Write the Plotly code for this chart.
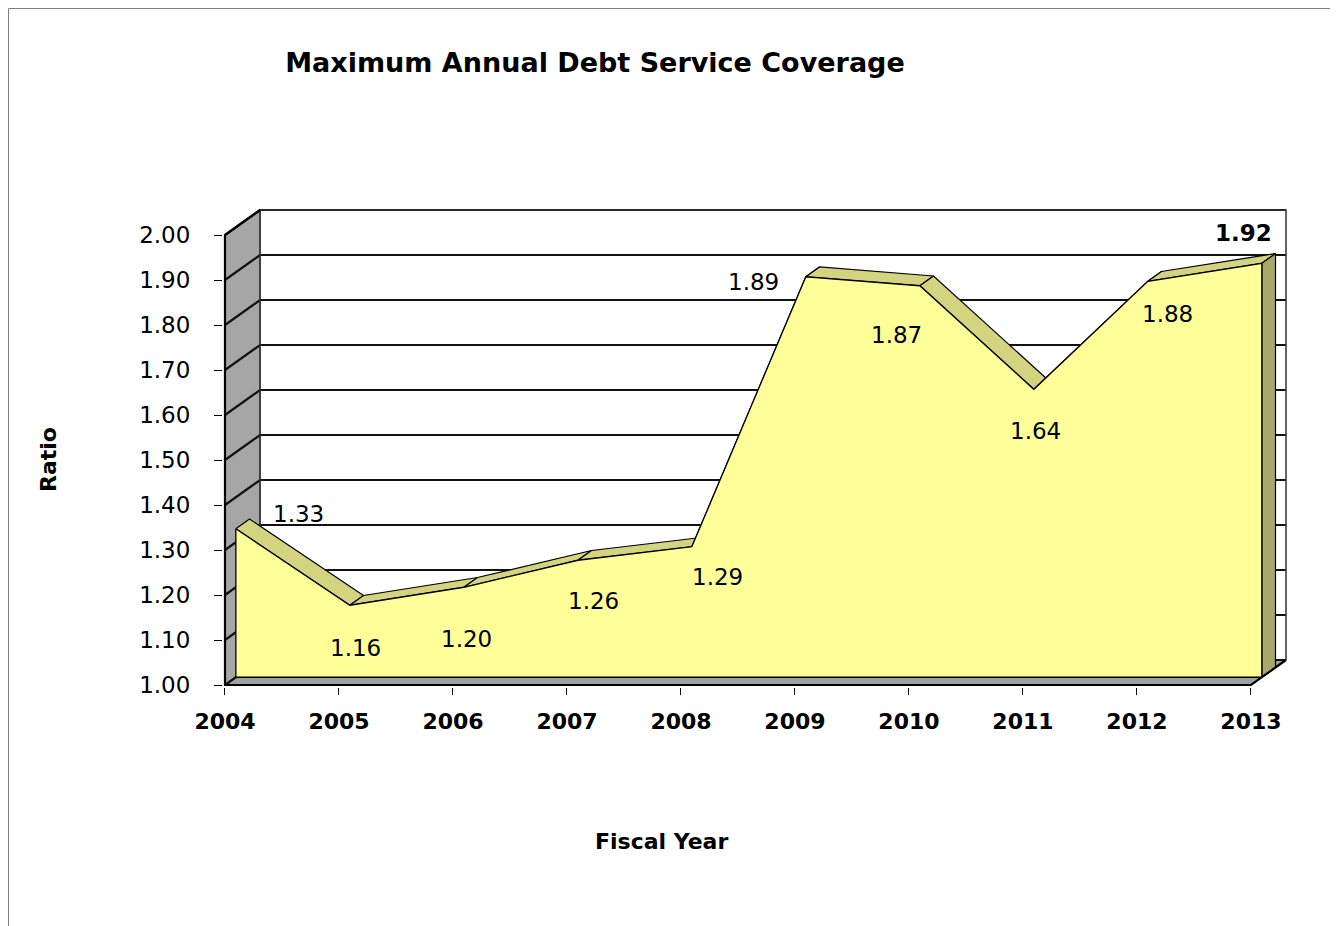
import plotly.graph_objects as go

# ---------------- data ----------------
years = [2004, 2005, 2006, 2007, 2008, 2009, 2010, 2011, 2012, 2013]
ratios = [1.33, 1.16, 1.20, 1.26, 1.29, 1.89, 1.87, 1.64, 1.88, 1.92]
y_tick_values = [1.00, 1.10, 1.20, 1.30, 1.40, 1.50, 1.60, 1.70, 1.80, 1.90, 2.00]
y_tick_labels = ["1.00", "1.10", "1.20", "1.30", "1.40", "1.50", "1.60", "1.70", "1.80", "1.90", "2.00"]
x_tick_labels = ["2004", "2005", "2006", "2007", "2008", "2009", "2010", "2011", "2012", "2013"]
value_labels = ["1.33", "1.16", "1.20", "1.26", "1.29", "1.89", "1.87", "1.64", "1.88", "1.92"]
chart_title = "Maximum Annual Debt Service Coverage"
x_title = "Fiscal Year"
y_title = "Ratio"

# ---------------- style ----------------
FONT = "DejaVu Sans"
DEPTH_X = 0.3073      # 3-D depth offset in x (years)
DEPTH_Y = 0.0556      # 3-D depth offset in y (ratio units)
SERIES_FRONT = 0.31   # fraction of depth where series front face lies
SERIES_BACK = 0.70    # fraction of depth where series back lies
FRONT_COLOR = "#FFFF99"
TOP_COLOR = "#D3D380"
SIDE_COLOR = "#A8A86A"
WALL_COLOR = "#A6A6A6"
FLOOR_COLOR = "#A0A0A0"
# label offsets in pixels (right, up) relative to each data point
label_shift = [(74, 23), (17, -35), (14, -44), (27, -33), (37, -22),
               (-41, 3), (-12, -41), (13, -34), (31, -25), (-7, 38)]

# page geometry (the html body adds an 8px offset)
OFF = 8
W, H = 1338 - OFF, 926 - OFF
PL, PT, PW, PH = 223, 208, 1065, 479   # plot area in page pixels


def px(xp):
    return (xp - PL) / PW


def py(yp):
    return (PT + PH - yp) / PH


x0, xN = years[0], years[-1]
ymin, ymax = y_tick_values[0], y_tick_values[-1]
EX, EY = 0.0175, 0.0044

fig = go.Figure()


def poly(xs, ys, fill, lw=1.0, lc="black"):
    fig.add_trace(go.Scatter(x=xs + [xs[0]], y=ys + [ys[0]], mode="lines",
                             fill="toself", fillcolor=fill,
                             line=dict(color=lc, width=lw),
                             hoverinfo="skip", showlegend=False))


# side wall
poly([x0, x0, x0 + DEPTH_X, x0 + DEPTH_X], [ymin, ymax, ymax + DEPTH_Y, ymin + DEPTH_Y], WALL_COLOR)
# floor
poly([x0, xN, xN + DEPTH_X, x0 + DEPTH_X], [ymin, ymin, ymin + DEPTH_Y, ymin + DEPTH_Y], FLOOR_COLOR)

# gridlines on side and back wall
gx, gy = [], []
for v in y_tick_values:
    gx += [x0, x0 + DEPTH_X, xN + DEPTH_X, None]
    gy += [v, v + DEPTH_Y, v + DEPTH_Y, None]
fig.add_trace(go.Scatter(x=gx, y=gy, mode="lines", line=dict(color="#111111", width=2.2),
                         hoverinfo="skip", showlegend=False))
# back wall frame
fig.add_trace(go.Scatter(x=[x0 + DEPTH_X, x0 + DEPTH_X, xN + DEPTH_X, xN + DEPTH_X],
                         y=[ymin + DEPTH_Y, ymax + DEPTH_Y, ymax + DEPTH_Y, ymin + DEPTH_Y],
                         mode="lines", line=dict(color="#333333", width=1.5),
                         hoverinfo="skip", showlegend=False))

fdx, fdy = SERIES_FRONT * DEPTH_X, SERIES_FRONT * DEPTH_Y
bdx, bdy = SERIES_BACK * DEPTH_X, SERIES_BACK * DEPTH_Y

# top ribbons of the 3-D area
for i in range(len(years) - 1):
    xa, xb = years[i], years[i + 1]
    ya, yb = ratios[i], ratios[i + 1]
    poly([xa + fdx, xb + fdx, xb + bdx, xa + bdx],
         [ya + fdy, yb + fdy, yb + bdy, ya + bdy], TOP_COLOR, lw=1.2)

# right end face
poly([xN + fdx, xN + bdx, xN + bdx, xN + fdx],
     [ratios[-1] + fdy, ratios[-1] + bdy, ymin + bdy, ymin + fdy], SIDE_COLOR, lw=1.2)

# front face
fx = [x0 + fdx] + [x + fdx for x in years] + [xN + fdx]
fy = [ymin + fdy] + [r + fdy for r in ratios] + [ymin + fdy]
poly(fx, fy, FRONT_COLOR, lw=1.3)

# front axis lines
fig.add_trace(go.Scatter(x=[x0 + DEPTH_X, x0, x0, xN, xN + DEPTH_X],
                         y=[ymax + DEPTH_Y, ymax, ymin, ymin, ymin + DEPTH_Y],
                         mode="lines", line=dict(color="black", width=2.2),
                         hoverinfo="skip", showlegend=False))

# value labels
for i, (x, r, t) in enumerate(zip(years, ratios, value_labels)):
    bold = (i == len(years) - 1)
    fig.add_annotation(x=x, y=r, text=t, showarrow=False,
                       xanchor="center", yanchor="middle",
                       xshift=label_shift[i][0], yshift=label_shift[i][1],
                       font=dict(family=FONT, size=23, color="black",
                                 weight="bold" if bold else "normal"))

# axis titles
fig.add_annotation(xref="paper", yref="paper", x=px(661), y=py(841),
                   xanchor="center", yanchor="middle",
                   text=x_title, showarrow=False,
                   font=dict(family=FONT, size=22, color="black", weight="bold"))
fig.add_annotation(xref="paper", yref="paper", x=px(48), y=py(460),
                   xanchor="center", yanchor="middle",
                   text=y_title, showarrow=False, textangle=-90,
                   font=dict(family=FONT, size=22, color="black", weight="bold"))

# outer border (top and left edges visible)
fig.add_shape(type="rect", xref="paper", yref="paper",
              x0=px(8.5), x1=px(1400), y0=py(990), y1=py(8.5),
              line=dict(color="#7f7f7f", width=1), layer="below")

fig.update_layout(
    width=W, height=H,
    margin=dict(l=PL - OFF, r=W - (PL - OFF) - PW, t=PT - OFF, b=H - (PT - OFF) - PH),
    paper_bgcolor="white", plot_bgcolor="white",
    title=dict(text=chart_title, x=(595 - OFF) / W, y=1 - (63 - OFF) / H,
               xref="container", yref="container", xanchor="center", yanchor="middle",
               font=dict(family=FONT, size=27, color="black", weight="bold")),
    xaxis=dict(range=[x0 - EX, xN + DEPTH_X + EX], tickvals=years, ticktext=x_tick_labels,
               showgrid=False, zeroline=False, showline=False,
               ticks="outside", ticklen=7, tickcolor="black", tickwidth=1,
               ticklabelstandoff=8,
               tickfont=dict(family=FONT, size=22, color="black", weight="bold")),
    yaxis=dict(range=[ymin - EY, ymax + DEPTH_Y + EY], tickvals=y_tick_values, ticktext=y_tick_labels,
               showgrid=False, zeroline=False, showline=False,
               ticks="outside", ticklen=8, tickcolor="black", tickwidth=1,
               ticklabelstandoff=19,
               tickfont=dict(family=FONT, size=23, color="black")),
    font=dict(family=FONT),
)

fig.write_html("out.html")
